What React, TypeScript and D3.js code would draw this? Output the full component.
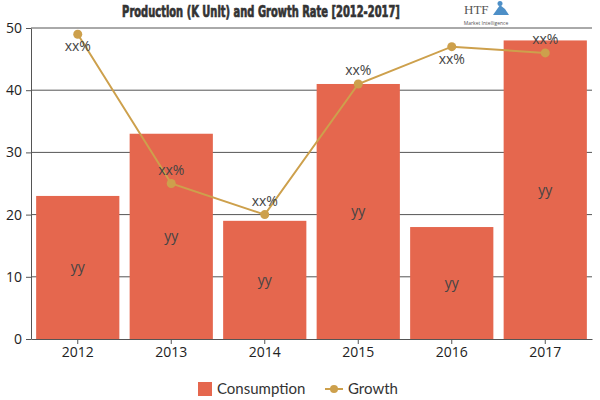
import React from "react";
import * as d3 from "d3";

const years = ["2012", "2013", "2014", "2015", "2016", "2017"];
const consumption = [23, 33, 19, 41, 18, 48];
const growth = [49, 25, 20, 41, 47, 46];
const barLabels = ["yy", "yy", "yy", "yy", "yy", "yy"];
const growthLabels = ["xx%", "xx%", "xx%", "xx%", "xx%", "xx%"];
const yTicks = [0, 10, 20, 30, 40, 50];

const W = 600;
const H = 400;
const margin = { top: 28, right: 8, bottom: 61, left: 31 };
const BAR = "#e5674e";
const LINE = "#cda04c";
const FONT = "'Open Sans', 'DejaVu Sans', sans-serif";

const App = () => {
  const ref = React.useRef<SVGSVGElement>(null);

  React.useEffect(() => {
    const svg = d3.select(ref.current);
    svg.selectAll("*").remove();

    const x = d3.scaleBand().domain(years).range([margin.left, W - margin.right]).paddingInner(0.11).paddingOuter(0.055);
    const y = d3.scaleLinear().domain([0, 50]).range([H - margin.bottom, margin.top]);

    // grid
    svg.append("g")
      .selectAll("line")
      .data(yTicks.slice(1))
      .enter()
      .append("line")
      .attr("x1", margin.left)
      .attr("x2", W - margin.right)
      .attr("y1", d => y(d))
      .attr("y2", d => y(d))
      .attr("stroke", "#555")
      .attr("stroke-width", 1);

    // bars
    svg.append("g")
      .selectAll("rect")
      .data(consumption)
      .enter()
      .append("rect")
      .attr("x", (d, i) => x(years[i])!)
      .attr("width", x.bandwidth())
      .attr("y", d => y(d))
      .attr("height", d => y(0) - y(d))
      .attr("fill", BAR);

    svg.append("g")
      .selectAll("text")
      .data(consumption)
      .enter()
      .append("text")
      .text((d, i) => barLabels[i])
      .attr("x", (d, i) => x(years[i])! + x.bandwidth() / 2)
      .attr("y", d => (y(d) + y(0)) / 2 + 5)
      .attr("text-anchor", "middle")
      .style("font-family", FONT)
      .style("font-size", "14px")
      .style("fill", "#444");

    // axes
    const yAxis = svg.append("g")
      .attr("transform", `translate(${margin.left},0)`)
      .call(d3.axisLeft(y).tickValues(yTicks).tickSize(5).tickSizeOuter(0));
    yAxis.select(".domain").attr("stroke", "#555");
    yAxis.selectAll("line").attr("stroke", "#555");
    yAxis.selectAll("text")
      .attr("x", -9)
      .style("font-family", FONT)
      .style("font-size", "14px")
      .style("fill", "#222");

    const xAxis = svg.append("g")
      .attr("transform", `translate(0,${y(0)})`)
      .call(d3.axisBottom(x).tickSize(5).tickSizeOuter(0));
    xAxis.select(".domain").attr("stroke", "#555");
    xAxis.selectAll("line").attr("stroke", "#555");
    xAxis.selectAll("text")
      .attr("y", 8)
      .style("font-family", FONT)
      .style("font-size", "14px")
      .style("fill", "#222");

    // growth line
    const cx = (i: number) => x(years[i])! + x.bandwidth() / 2;
    const line = d3.line<number>().x((d, i) => cx(i)).y(d => y(d));
    svg.append("path")
      .datum(growth)
      .attr("d", line)
      .attr("fill", "none")
      .attr("stroke", LINE)
      .attr("stroke-width", 2);

    svg.append("g")
      .selectAll("circle")
      .data(growth)
      .enter()
      .append("circle")
      .attr("cx", (d, i) => cx(i))
      .attr("cy", d => y(d))
      .attr("r", 4.5)
      .attr("fill", LINE);

    // labels go above the point unless it is a local peak
    svg.append("g")
      .selectAll("text")
      .data(growth)
      .enter()
      .append("text")
      .text((d, i) => growthLabels[i])
      .attr("x", (d, i) => cx(i))
      .attr("y", (d, i) => {
        const below = i === 0 || (i < growth.length - 1 && growth[i + 1] < d && growth[i - 1] < d);
        return below ? y(d) + 17 : y(d) - 9;
      })
      .attr("text-anchor", "middle")
      .style("font-family", FONT)
      .style("font-size", "14px")
      .style("fill", "#444");

    // title, squeezed horizontally into a narrow block
    const title = svg.append("text")
      .text("Production (K Unit) and Growth Rate [2012-2017]")
      .attr("x", 0)
      .attr("y", 0)
      .attr("text-anchor", "middle")
      .attr("stroke", "#333")
      .attr("stroke-width", 0.7)
      .style("font-family", "'DejaVu Sans Condensed', 'Liberation Sans Narrow', sans-serif")
      .style("font-weight", "bold")
      .style("font-size", "16px")
      .style("fill", "#333");
    const natural = (title.node() as SVGTextElement).getComputedTextLength() || 278;
    title.attr("transform", `translate(261,17) scale(${278 / natural},1)`);

    // logo
    const logo = svg.append("g");
    logo.append("text")
      .text("HTF")
      .attr("x", 464)
      .attr("y", 14)
      .style("font-family", "'Liberation Serif', serif")
      .style("font-size", "13px")
      .style("fill", "#555");
    logo.append("path")
      .attr("d", "M493,15 L500,5 L505,9 L509,15 Z")
      .attr("fill", "#4d8fc7");
    logo.append("circle").attr("cx", 500).attr("cy", 3.5).attr("r", 2.5).attr("fill", "#4d8fc7");
    logo.append("text")
      .text("Market Intelligence")
      .attr("x", 486)
      .attr("y", 25)
      .attr("text-anchor", "middle")
      .style("font-family", FONT)
      .style("font-size", "5px")
      .style("fill", "#555");

    // legend
    const leg = svg.append("g");
    leg.append("rect").attr("x", 198).attr("y", 382).attr("width", 14).attr("height", 14).attr("fill", BAR);
    leg.append("text")
      .text("Consumption")
      .attr("x", 217)
      .attr("y", 394)
      .style("font-family", "'Lato', 'DejaVu Sans', sans-serif")
      .style("font-size", "15px")
      .style("fill", "#333");
    leg.append("line").attr("x1", 325).attr("x2", 343).attr("y1", 389).attr("y2", 389).attr("stroke", LINE).attr("stroke-width", 2);
    leg.append("circle").attr("cx", 334).attr("cy", 389).attr("r", 4).attr("fill", LINE);
    leg.append("text")
      .text("Growth")
      .attr("x", 348)
      .attr("y", 394)
      .style("font-family", "'Lato', 'DejaVu Sans', sans-serif")
      .style("font-size", "15px")
      .style("fill", "#333");
  }, []);

  return (
    <svg ref={ref} width={W} height={H} style={{ display: "block", position: "absolute", left: 0, top: 0, background: "#fff" }} />
  );
};

export default App;
